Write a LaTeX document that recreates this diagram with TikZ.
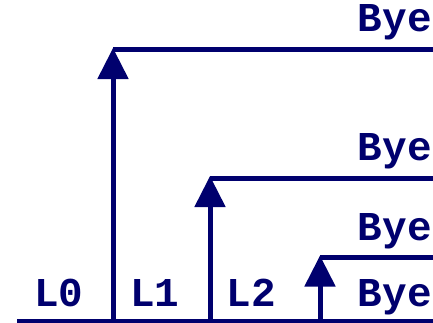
\documentclass[tikz,border=0pt]{standalone}
\usepackage{fontspec}
\setmonofont{Liberation Mono}
\usepackage{tikz}
\usetikzlibrary{arrows.meta,positioning}
\definecolor{slideblue}{RGB}{0,0,110}

\begin{document}
\begin{tikzpicture}[x=1pt,y=1pt, lbl/.style={text=slideblue,font=\ttfamily\bfseries\fontsize{41}{41}\selectfont,inner sep=0pt},
    rail/.style={draw=slideblue,line width=5pt},
    jump/.style={rail,-{Triangle[width=30pt,length=31pt]}}]
            \useasboundingbox (0,0) rectangle (433,322);
            \coordinate (s) at (17,1);
            \coordinate (e) at (433,1);

            \coordinate (b0) at (113,1);
            \coordinate (t0) at (113,274);
            \coordinate (h0) at (113,272);
            \coordinate (r0) at (433,272);

            \coordinate (b1) at (210,1);
            \coordinate (t1) at (210,146);
            \coordinate (h1) at (210,144);
            \coordinate (r1) at (433,144);

            \coordinate (b2) at (320,1);
            \coordinate (t2) at (320,66.5);
            \coordinate (h2) at (320,64.5);
            \coordinate (r2) at (433,64.5);

            \draw[rail] (s) -- (e);
            \draw[rail] (h0) -- (r0);
            \draw[rail] (h1) -- (r1);
            \draw[rail] (h2) -- (r2);
            \draw[jump] (b0) -- (t0);
            \draw[jump] (b1) -- (t1);
            \draw[jump] (b2) -- (t2);

            \node[lbl,anchor=base] (l0) at (59,16) {L0};
            \node[lbl,anchor=base] (l1) at (155,16) {L1};
            \node[lbl,anchor=base] (l2) at (251,16) {L2};
            \node[lbl,anchor=base east] (y0) at (432,290) {Bye};
            \node[lbl,anchor=base east] (y1) at (432,162) {Bye};
            \node[lbl,anchor=base east] (y2) at (432,82) {Bye};
            \node[lbl,anchor=base east] (y3) at (432,16) {Bye};
          \end{tikzpicture}
\end{document}
